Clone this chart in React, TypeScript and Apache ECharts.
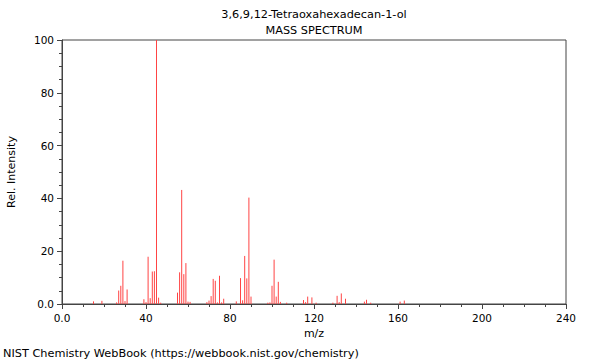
import React, { useEffect, useRef } from "react";
import * as echarts from "echarts";

const TITLE = "3,6,9,12-Tetraoxahexadecan-1-ol";
const SUBTITLE = "MASS SPECTRUM";
const FOOTER = "NIST Chemistry WebBook (https://webbook.nist.gov/chemistry)";

const mz = [15, 19, 26, 27, 28, 29, 30, 31, 39, 40, 41, 42, 43, 44, 45, 46, 47, 55, 56, 57, 58, 59, 60, 61, 69, 70, 71, 72, 73, 74, 75, 76, 77, 83, 85, 86, 87, 88, 89, 90, 98, 99, 100, 101, 102, 103, 104, 107, 115, 116, 117, 119, 121, 129, 131, 132, 133, 135, 144, 145, 147, 161, 163];
const intensity = [1.0, 1.2, 0.6, 5.1, 6.9, 16.4, 1.1, 5.5, 1.8, 0.7, 17.9, 2.2, 12.3, 12.4, 100, 2.4, 0.5, 4.3, 12.0, 43.2, 11.3, 15.5, 0.9, 0.8, 0.7, 1.3, 3.0, 9.5, 8.8, 0.6, 10.7, 0.6, 2.0, 1.0, 9.8, 1.4, 18.2, 9.7, 40.3, 2.8, 0.5, 0.6, 6.9, 16.8, 2.8, 8.4, 0.8, 0.5, 1.5, 0.7, 2.8, 2.5, 0.5, 0.5, 3.1, 0.7, 4.0, 2.0, 0.9, 1.6, 0.5, 0.9, 1.3];

const FONT = "DejaVu Sans";

export default function App() {
  const ref = useRef<HTMLDivElement>(null);
  useEffect(() => {
    const chart = echarts.init(ref.current!, null, { renderer: "svg" });
    const axisColor = "#444";
    chart.setOption({
      animation: false,
      backgroundColor: "#ffffff",
      textStyle: { fontFamily: FONT },
      grid: {
        left: 62,
        right: 34,
        top: 40,
        bottom: 56,
        containLabel: false,
        outerBoundsMode: "none",
        show: true,
        borderColor: axisColor,
        borderWidth: 1,
      },
      graphic: [
        { type: "text", x: 314, y: 14, style: { text: TITLE, font: `11.3px ${FONT}`, fill: "#000", align: "center", verticalAlign: "middle" } },
        { type: "text", x: 314, y: 30, style: { text: SUBTITLE, font: `11.3px ${FONT}`, fill: "#000", align: "center", verticalAlign: "middle" } },
        { type: "text", x: 3, y: 353, style: { text: FOOTER, font: `11.3px ${FONT}`, fill: "#000", align: "left", verticalAlign: "middle" } },
      ],
      xAxis: {
        type: "value",
        min: 0,
        max: 240,
        interval: 40,
        name: "m/z",
        nameLocation: "middle",
        nameGap: 23,
        nameTextStyle: { fontFamily: FONT, fontSize: 11, color: "#000" },
        axisLine: { show: true, lineStyle: { color: axisColor, width: 1 } },
        axisTick: { show: true, length: 5, lineStyle: { color: axisColor } },
        minorTick: { show: true, splitNumber: 4, length: 3, lineStyle: { color: axisColor } },
        splitLine: { show: false },
        axisLabel: {
          fontFamily: FONT,
          fontSize: 10.5,
          color: "#000",
          margin: 8,
          formatter: (v: number) => (v === 0 ? "0.0" : String(v)),
        },
      },
      yAxis: {
        type: "value",
        min: 0,
        max: 100,
        interval: 20,
        name: "Rel. Intensity",
        nameLocation: "middle",
        nameRotate: 90,
        nameGap: 45,
        nameTextStyle: { fontFamily: FONT, fontSize: 11, color: "#000" },
        axisLine: { show: true, lineStyle: { color: axisColor, width: 1 } },
        axisTick: { show: true, length: 5, lineStyle: { color: axisColor } },
        minorTick: { show: true, splitNumber: 4, length: 3, lineStyle: { color: axisColor } },
        splitLine: { show: false },
        axisLabel: {
          fontFamily: FONT,
          fontSize: 10.5,
          color: "#000",
          margin: 8,
          formatter: (v: number) => (v === 0 ? "0.0" : String(v)),
        },
      },
      series: [
        {
          type: "custom",
          silent: true,
          data: mz.map((m, i) => [m, intensity[i]]),
          encode: { x: 0, y: 1 },
          renderItem: (params: any, api: any) => {
            const top = api.coord([api.value(0), api.value(1)]);
            const base = api.coord([api.value(0), 0]);
            return {
              type: "line",
              shape: { x1: base[0], y1: base[1], x2: top[0], y2: top[1] },
              style: { stroke: "#ff4444", lineWidth: 1 },
            };
          },
        },
      ],
    });
    return () => chart.dispose();
  }, []);
  return <div ref={ref} style={{ width: 600, height: 360, position: "absolute", left: 0, top: 0 }} />;
}
